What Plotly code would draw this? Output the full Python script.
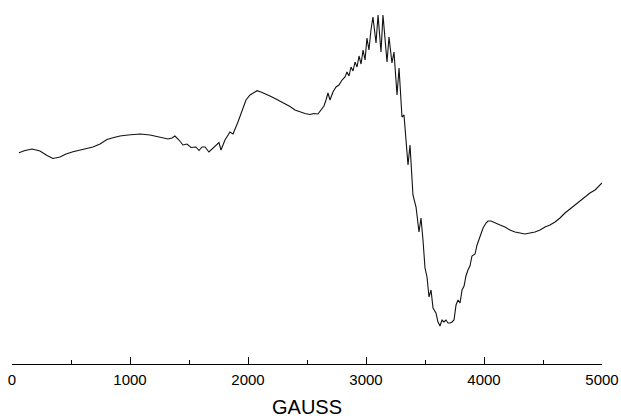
import plotly.graph_objects as go

# Magnetic field (gauss) and signal intensity (arbitrary units)
gauss = [59, 110, 170, 237, 297, 347, 407, 458, 517, 576, 636, 686, 746, 805, 864, 915, 983,
         1085, 1170, 1254, 1322, 1356, 1381, 1415, 1449, 1483, 1517, 1559, 1585, 1610, 1636,
         1669, 1695, 1720, 1754, 1771, 1805, 1847, 1873, 1915, 1949, 1983, 2017, 2051, 2076,
         2110, 2144, 2186, 2229, 2271, 2314, 2356, 2398, 2441, 2483, 2525, 2559, 2593, 2619,
         2644, 2661, 2678, 2695, 2720, 2746, 2771, 2797, 2822, 2839, 2856, 2873, 2890, 2907,
         2924, 2941, 2958, 2975, 2992, 3008, 3025, 3042, 3059, 3085, 3102, 3127, 3144, 3178,
         3195, 3220, 3237, 3263, 3280, 3305, 3322, 3356, 3373, 3398, 3424, 3449, 3466, 3483,
         3500, 3517, 3534, 3551, 3568, 3593, 3610, 3627, 3644, 3661, 3678, 3695, 3712, 3729,
         3746, 3763, 3780, 3797, 3814, 3831, 3847, 3864, 3881, 3898, 3924, 3941, 3966, 3992,
         4017, 4034, 4059, 4093, 4136, 4178, 4220, 4263, 4305, 4347, 4390, 4432, 4475, 4517,
         4559, 4602, 4644, 4686, 4729, 4771, 4814, 4856, 4898, 4941, 4983, 5000]

signal = [211.3, 213.5, 215, 213, 208.5, 205.5, 207, 210, 212.3, 214, 215.5, 217, 220, 224.5,
          226.5, 228, 229, 230, 229, 227, 225, 226, 228, 224, 219, 220, 216.5, 217, 213.5, 217,
          217, 212, 215, 217.5, 221.5, 214, 224, 232, 230, 242, 254, 264, 269, 272, 273.3, 272,
          270.5, 268, 265.5, 263, 260.5, 257.5, 254, 252, 250.5, 249.5, 250.5, 250, 254, 258,
          264, 271, 264, 272, 277, 279, 284, 287, 292, 288, 297, 293, 302, 297, 308, 300, 314,
          304, 326, 314, 334, 347, 321, 349, 312, 349, 302, 327, 301, 312, 269, 296, 247, 249,
          199, 219, 169, 157, 132, 146, 124, 96, 87, 67, 74, 56, 51, 42, 38, 44, 42, 44, 41,
          41, 42, 44, 59, 64, 61, 74, 78, 88, 94, 98, 108, 110, 119, 128, 136, 141, 143, 143,
          141, 139, 137, 134, 132, 131, 130, 131, 132, 134, 137, 139, 142, 146, 151, 155, 159,
          163, 167, 171, 174, 179, 181]

tick_vals = [0, 1000, 2000, 3000, 4000, 5000]
tick_text = ["0", "1000", "2000", "3000", "4000", "5000"]

fig = go.Figure()
fig.add_trace(go.Scatter(x=gauss, y=signal, mode="lines",
                         line=dict(color="#111111", width=1.1), showlegend=False,
                         hoverinfo="skip"))

fig.update_layout(
    width=621, height=418,
    margin=dict(l=12, r=19, t=0, b=54),
    paper_bgcolor="white", plot_bgcolor="white",
    font=dict(family="Liberation Sans, Arial, sans-serif", color="black"),
    xaxis=dict(
        range=[0, 5000], showgrid=False, zeroline=False,
        showline=True, linecolor="black", linewidth=1.3,
        ticks="inside", ticklen=7, tickwidth=1, tickcolor="black",
        tickvals=tick_vals, ticktext=tick_text, ticklabelstandoff=2,
        tickfont=dict(size=15, family="Liberation Sans, Arial, sans-serif", color="black"),
        minor=dict(ticks="inside", ticklen=4, tickwidth=1, tickcolor="black", dtick=500,
                   showgrid=False),
        title=dict(text="GAUSS", font=dict(size=20, family="Liberation Sans, Arial, sans-serif",
                                           color="black"), standoff=15),
        fixedrange=True,
    ),
    yaxis=dict(range=[0, 364], visible=False, fixedrange=True),
)

fig.write_html("out.html")
